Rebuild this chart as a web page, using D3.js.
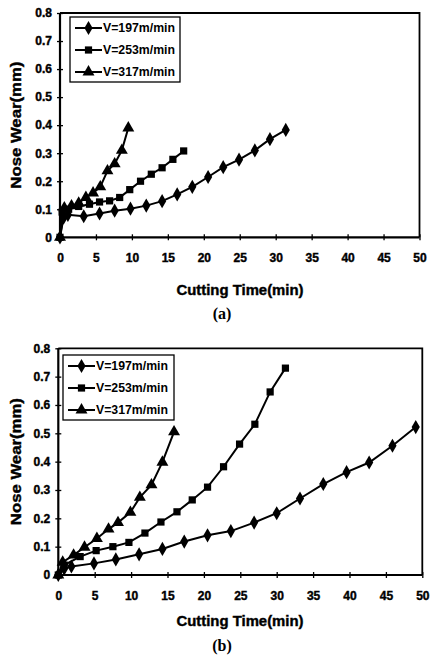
<!DOCTYPE html>
<html>
<head>
<meta charset="utf-8">
<script src="https://cdn.jsdelivr.net/npm/d3@7"></script>
<style>
  body { margin: 0; background: #fff; }
  text { font-family: "Liberation Sans", Arial, sans-serif; font-weight: bold; fill: #000; }
</style>
</head>
<body>
<div id="chart"></div>
<script>
// legend names
var speeds = ["V=197m/min", "V=253m/min", "V=317m/min"];
var xTicks = [0, 5, 10, 15, 20, 25, 30, 35, 40, 45, 50];
var yTicks = [0, 0.1, 0.2, 0.3, 0.4, 0.5, 0.6, 0.7, 0.8];

// panel (a)
var a197t = [0, 0.5, 1.1, 3.3, 5.5, 7.6, 9.8, 12.0, 14.2, 16.3, 18.4, 20.6, 22.7, 24.9, 27.1, 29.2, 31.4];
var a197v = [0, 0.07, 0.08, 0.075, 0.085, 0.095, 0.102, 0.113, 0.129, 0.153, 0.18, 0.215, 0.25, 0.277, 0.31, 0.35, 0.383];
var a253t = [0, 0.3, 1.2, 2.6, 4.1, 5.5, 6.9, 8.3, 9.7, 11.2, 12.7, 14.2, 15.7, 17.2];
var a253v = [0, 0.09, 0.1, 0.11, 0.118, 0.126, 0.13, 0.142, 0.17, 0.2, 0.225, 0.248, 0.278, 0.308];
var a317t = [0, 0.6, 1.6, 2.6, 3.6, 4.6, 5.6, 6.6, 7.6, 8.6, 9.5];
var a317v = [0, 0.105, 0.112, 0.122, 0.142, 0.158, 0.18, 0.237, 0.262, 0.31, 0.39];

// panel (b)
var b197t = [0, 0.8, 1.8, 4.9, 7.9, 11.1, 14.3, 17.3, 20.5, 23.7, 26.9, 30.0, 33.2, 36.4, 39.6, 42.7, 45.9, 49.1];
var b197v = [0, 0.022, 0.03, 0.041, 0.055, 0.073, 0.092, 0.118, 0.14, 0.155, 0.185, 0.218, 0.27, 0.321, 0.363, 0.397, 0.456, 0.522];
var b253t = [0, 0.8, 3.0, 5.2, 7.5, 9.7, 11.9, 14.1, 16.3, 18.4, 20.5, 22.7, 24.9, 27.0, 29.1, 31.2];
var b253v = [0, 0.035, 0.065, 0.086, 0.1, 0.115, 0.148, 0.187, 0.223, 0.265, 0.31, 0.382, 0.462, 0.532, 0.646, 0.73];
var b317t = [0, 0.6, 2.1, 3.6, 5.3, 6.9, 8.2, 9.9, 11.2, 12.8, 14.3, 15.9];
var b317v = [0, 0.045, 0.07, 0.098, 0.129, 0.162, 0.185, 0.221, 0.274, 0.318, 0.398, 0.505];

var symbols = [d3.symbolDiamond, d3.symbolSquare, d3.symbolTriangle];
var symSize = [58, 52, 62];

var svg = d3.select("#chart").append("svg")
  .attr("width", 431)
  .attr("height", 659)
  .style("background", "#fff");

function zip(t, v) {
  return t.map(function (d, i) { return [d, v[i]]; });
}

function drawPanel(p) {
  var x = d3.scaleLinear().domain([0, 50]).range([p.left, p.right]);
  var y = d3.scaleLinear().domain([0, 0.8]).range([p.bottom, p.top]);
  var g = svg.append("g");

  // frame top + right
  g.append("path")
    .attr("d", "M" + p.left + "," + p.top + "H" + p.right + "V" + p.bottom)
    .attr("fill", "none").attr("stroke", "#000").attr("stroke-width", 1.8);

  // axes with crossing ticks
  var xa = g.append("g")
    .attr("transform", "translate(0," + p.bottom + ")")
    .call(d3.axisBottom(x).tickValues(xTicks).tickSize(6).tickFormat(d3.format("d")));
  xa.selectAll(".tick line").attr("y1", -3).attr("y2", 3).attr("stroke-width", 1.3);
  xa.selectAll(".tick text").attr("y", p.xLabelDy).attr("dy", "0.35em")
    .style("font-size", "12px").style("font-family", "Liberation Sans, Arial, sans-serif")
    .attr("stroke", "#000").attr("stroke-width", 0.4);
  xa.select(".domain").attr("stroke-width", 2.2).attr("d", "M" + p.left + ",0H" + p.right);

  var ya = g.append("g")
    .attr("transform", "translate(" + p.left + ",0)")
    .call(d3.axisLeft(y).tickValues(yTicks).tickSize(6).tickFormat(function (d) { return d === 0 ? "0" : d3.format(".1f")(d); }));
  ya.selectAll(".tick line").attr("x1", -3).attr("x2", 3).attr("stroke-width", 1.3);
  ya.selectAll(".tick text").attr("x", -8)
    .style("font-size", "12px").style("font-family", "Liberation Sans, Arial, sans-serif")
    .attr("stroke", "#000").attr("stroke-width", 0.4);
  ya.select(".domain").attr("stroke-width", 2.2).attr("d", "M0," + p.top + "V" + p.bottom);

  // series
  var line = d3.line().x(function (d) { return x(d[0]); }).y(function (d) { return y(d[1]); });
  p.series.forEach(function (s, k) {
    var pts = zip(s[0], s[1]);
    g.append("path").datum(pts)
      .attr("d", line).attr("fill", "none")
      .attr("stroke", "#000").attr("stroke-width", 2);
    g.selectAll(null).data(pts).enter().append("path")
      .attr("transform", function (d) { return "translate(" + x(d[0]) + "," + y(d[1]) + ")"; })
      .attr("d", d3.symbol().type(symbols[k]).size(symSize[k]))
      .attr("fill", "#000");
  });

  // legend
  var lg = g.append("g");
  lg.append("rect")
    .attr("x", p.legX).attr("y", p.legY).attr("width", p.legW).attr("height", 65)
    .attr("fill", "#fff").attr("stroke", "#000").attr("stroke-width", 1.3);
  speeds.forEach(function (name, k) {
    var yy = p.legY + 11 + k * 22;
    lg.append("line")
      .attr("x1", p.legX + 5).attr("x2", p.legX + 32).attr("y1", yy).attr("y2", yy)
      .attr("stroke", "#000").attr("stroke-width", 2);
    lg.append("path")
      .attr("transform", "translate(" + (p.legX + 18.5) + "," + yy + ")")
      .attr("d", d3.symbol().type(symbols[k]).size(symSize[k]))
      .attr("fill", "#000");
    lg.append("text")
      .attr("x", p.legX + 33).attr("y", yy).attr("dy", "0.36em")
      .attr("textLength", 72).attr("lengthAdjust", "spacingAndGlyphs")
      .style("font-size", "12px").text(name);
  });

  // titles
  g.append("text")
    .attr("transform", "translate(" + 21 + "," + ((p.top + p.bottom) / 2) + ") rotate(-90)")
    .attr("text-anchor", "middle")
    .attr("textLength", 127).attr("lengthAdjust", "spacingAndGlyphs")
    .attr("stroke", "#000").attr("stroke-width", 0.4)
    .style("font-size", "14px").text("Nose Wear(mm)");
  g.append("text")
    .attr("x", 240).attr("y", p.xTitleY).attr("dy", "0.35em")
    .attr("text-anchor", "middle")
    .attr("textLength", 127).attr("lengthAdjust", "spacingAndGlyphs")
    .attr("stroke", "#000").attr("stroke-width", 0.4)
    .style("font-size", "14px").text("Cutting Time(min)");
  g.append("text")
    .attr("x", 222).attr("y", p.capY).attr("dy", "0.35em")
    .attr("text-anchor", "middle")
    .style("font-family", "Liberation Serif, Times New Roman, serif")
    .style("font-size", "16px").text(p.caption);
}

drawPanel({
  left: 60, right: 419.5, top: 13, bottom: 237.3,
  xLabelDy: 21, xTitleY: 290, capY: 313, caption: "(a)",
  legX: 70, legY: 17, legW: 110,
  series: [[a197t, a197v], [a253t, a253v], [a317t, a317v]]
});

drawPanel({
  left: 58.3, right: 422.3, top: 348.3, bottom: 575,
  xLabelDy: 21, xTitleY: 621.5, capY: 645, caption: "(b)",
  legX: 63, legY: 355, legW: 111,
  series: [[b197t, b197v], [b253t, b253v], [b317t, b317v]]
});
</script>
</body>
</html>
